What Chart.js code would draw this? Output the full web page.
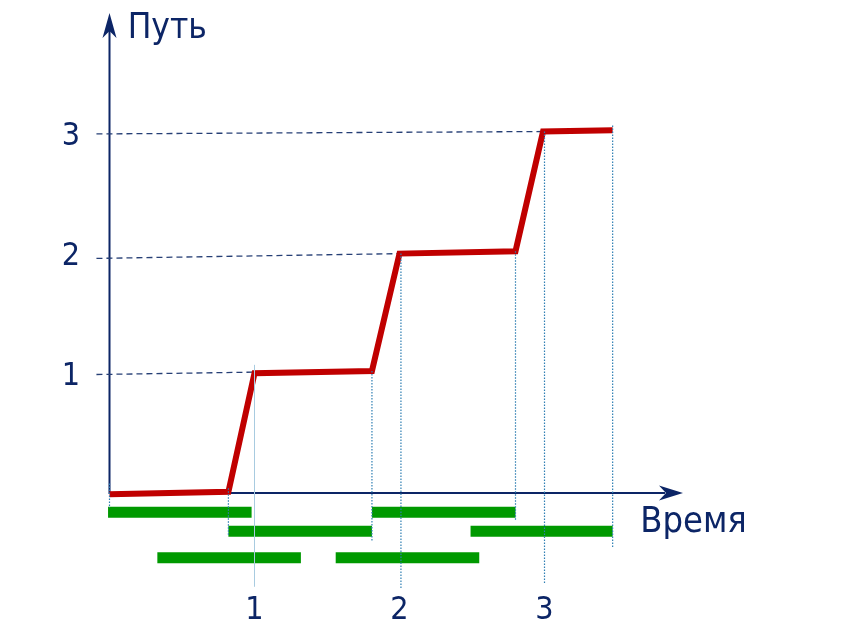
<!DOCTYPE html>
<html><head><meta charset="utf-8">
<script src="https://cdn.jsdelivr.net/npm/chart.js@4/dist/chart.umd.min.js"></script>
<style>html,body{margin:0;padding:0;background:#fff;}canvas{display:block;}</style>
</head><body>
<canvas id="c" width="851" height="636"></canvas>
<script>
// ---- data ----
const xTickValues = [1, 2, 3];
const xTickLabels = ['1', '2', '3'];
const yTickValues = [1, 2, 3];
const yTickLabels = ['1', '2', '3'];
const xTitle = 'Время';
const yTitle = 'Путь';

// red path (time, distance)
const pathX = [0, 0.82, 1.0, 1.81, 2.0, 2.80, 2.99, 3.47];
const pathY = [-0.01, 0.01, 1.0, 1.02, 2.0, 2.02, 3.02, 3.03];

// dashed guides from the y axis to the path
const guideStartY = [0.99, 1.96, 3.0];
const guideEndX = [1.0, 2.0, 2.99];
const guideEndY = [1.01, 2.0, 3.02];

// green duration bars
const barStart = [-0.01, 1.81, 0.82, 2.49, 0.33, 1.56];
const barEnd = [0.98, 2.80, 1.81, 3.47, 1.32, 2.55];
const barLevel = [-0.16, -0.16, -0.32, -0.32, -0.54, -0.54];

// dotted drop lines
const dropX = [0, 0.82, 1.81, 2.01, 2.80, 3.0, 3.47];
const dropTop = [0.08, 0.04, 1.02, 2.0, 2.02, 3.02, 3.07];
const dropBottom = [-0.125, -0.35, -0.41, -0.80, -0.23, -0.76, -0.46];

// solid light marker line at tick 1
const markX = [1.0];
const markTop = [1.07];
const markBottom = [-0.78];

// ---- styling ----
const NAVY = '#0c2566';
const FONT = "'DejaVu Sans Condensed', 'DejaVu Sans', sans-serif";
const X_MIN = -0.1, X_MAX = 4.0, Y_MIN = -0.8, Y_MAX = 4.0;
const AXIS_END_X = 3.955, AXIS_END_Y = 4.01;
const GUIDE_START_X = -0.09;

const datasets = [];
const seg = (x1, y1, x2, y2, style) => Object.assign({
  data: [{x: x1, y: y1}, {x: x2, y: y2}],
  showLine: true, pointRadius: 0, fill: false, clip: false,
  borderCapStyle: 'butt', tension: 0
}, style);

dropX.forEach((x, i) => datasets.push(seg(x, dropTop[i], x, dropBottom[i],
  {borderColor: '#2f7fb3', borderWidth: 1.2, borderDash: [1.5, 1.5]})));
markX.forEach((x, i) => datasets.push(seg(x, markTop[i], x, markBottom[i],
  {borderColor: '#a8cbe0', borderWidth: 1})));
datasets.push({
  data: pathX.map((x, i) => ({x, y: pathY[i]})),
  showLine: true, pointRadius: 0, fill: false, clip: false,
  borderColor: '#c00000', borderWidth: 6, borderJoinStyle: 'miter', borderCapStyle: 'butt', tension: 0
});
barStart.forEach((s, i) => datasets.push(seg(s, barLevel[i], barEnd[i], barLevel[i],
  {borderColor: '#009900', borderWidth: 11})));
guideStartY.forEach((yv, i) => datasets.push(seg(GUIDE_START_X, yv, guideEndX[i], guideEndY[i],
  {borderColor: '#263f75', borderWidth: 1.3, borderDash: [6, 4]})));

const axesPlugin = {
  id: 'axesArrows',
  beforeDatasetsDraw(chart) {
    const {ctx, scales: {x, y}} = chart;
    const x0 = x.getPixelForValue(0), y0 = y.getPixelForValue(0);
    const xe = x.getPixelForValue(AXIS_END_X), ye = y.getPixelForValue(AXIS_END_Y);
    ctx.save();
    ctx.strokeStyle = NAVY; ctx.fillStyle = NAVY; ctx.lineWidth = 2;
    ctx.beginPath();
    ctx.moveTo(x0, y0 + 1); ctx.lineTo(x0, ye + 18);
    ctx.moveTo(x0 - 1, y0); ctx.lineTo(xe - 18, y0);
    ctx.stroke();
    ctx.beginPath();
    ctx.moveTo(x0, ye); ctx.lineTo(x0 + 7, ye + 25); ctx.lineTo(x0, ye + 18); ctx.lineTo(x0 - 7, ye + 25); ctx.closePath(); ctx.fill();
    ctx.beginPath();
    ctx.moveTo(xe, y0); ctx.lineTo(xe - 24, y0 - 7.5); ctx.lineTo(xe - 17, y0); ctx.lineTo(xe - 24, y0 + 7.5); ctx.closePath(); ctx.fill();
    ctx.restore();
  },
  afterDraw(chart) {
    const {ctx, scales: {x, y}} = chart;
    ctx.save();
    ctx.fillStyle = NAVY;
    ctx.textBaseline = 'alphabetic';
    ctx.textAlign = 'left';
    ctx.font = '35px ' + FONT;
    ctx.fillText(yTitle, x.getPixelForValue(0.125), y.getPixelForValue(3.80));
    ctx.font = '36px ' + FONT;
    ctx.fillText(xTitle, x.getPixelForValue(3.66), y.getPixelForValue(-0.326));
    ctx.restore();
  }
};

new Chart(document.getElementById('c'), {
  type: 'scatter',
  data: {datasets},
  plugins: [axesPlugin],
  options: {
    responsive: false, animation: false, devicePixelRatio: 1,
    layout: {padding: {top: 14.2, right: 161.5, bottom: 0, left: 0}},
    plugins: {legend: {display: false}, tooltip: {enabled: false}},
    scales: {
      x: {
        type: 'linear', min: X_MIN, max: X_MAX,
        grid: {display: false, drawTicks: false}, border: {display: false},
        afterBuildTicks: s => { s.ticks = xTickValues.map(v => ({value: v})); },
        afterFit: s => { s.height = 47.2; s.paddingLeft = 0; s.paddingRight = 0; },
        ticks: {
          color: NAVY, padding: 3, maxRotation: 0, autoSkip: false,
          font: {family: FONT, size: 32},
          callback: (v) => xTickLabels[xTickValues.indexOf(v)]
        }
      },
      y: {
        type: 'linear', min: Y_MIN, max: Y_MAX,
        grid: {display: false, drawTicks: false}, border: {display: false},
        afterBuildTicks: s => { s.ticks = yTickValues.map(v => ({value: v})); },
        afterFit: s => { s.width = 95; s.paddingTop = 0; s.paddingBottom = 0; },
        ticks: {
          color: NAVY, padding: 15, autoSkip: false, labelOffset: 3,
          font: {family: FONT, size: 32},
          callback: (v) => yTickLabels[yTickValues.indexOf(v)]
        }
      }
    }
  }
});
</script>
</body></html>
